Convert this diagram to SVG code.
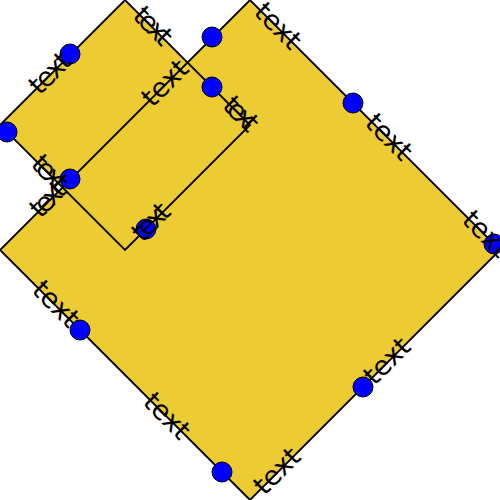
<svg xmlns="http://www.w3.org/2000/svg" width="500" height="500" viewBox="0 0 500 500">
<style>
.bg{fill:#EDCB33;stroke:none}
.edge{fill:none;stroke:#000;stroke-width:1.8;stroke-linejoin:miter}
.dot{fill:#0000FF;stroke:#000;stroke-width:1}
.lbl{font-family:"DejaVu Sans",sans-serif;font-size:27px;fill:#000;text-anchor:middle}
</style>
<rect width="500" height="500" fill="#fff"/>
<g id="fills">
<polygon class="bg" points="250,0 500,250 250,500 0,250"/>
<polygon class="bg" points="125,0 250,125 125,250 0,125"/>
</g>
<g id="big-square">
<polygon class="edge" points="250,0 500,250 250,500 0,250"/>
<circle class="dot" cx="212" cy="37" r="10"/>
<circle class="dot" cx="70" cy="179" r="10"/>
<circle class="dot" cx="353" cy="103" r="10"/>
<circle class="dot" cx="494" cy="244" r="10"/>
<circle class="dot" cx="80" cy="330" r="10"/>
<circle class="dot" cx="222" cy="472" r="10"/>
<circle class="dot" cx="363" cy="387" r="10"/>
<text class="lbl" transform="translate(166,84) rotate(-45)" dy="0.28em">text</text>
<text class="lbl" transform="translate(49,200) rotate(-45)" dy="0.28em" textLength="39" lengthAdjust="spacing">text</text>
<text class="lbl" transform="translate(277,27) rotate(45)" dy="0.28em">text</text>
<text class="lbl" transform="translate(388,138) rotate(45)" dy="0.28em">text</text>
<text class="lbl" transform="translate(485,235) rotate(45)" dy="0.28em">text</text>
<text class="lbl" transform="translate(55,305) rotate(45)" dy="0.28em">text</text>
<text class="lbl" transform="translate(166,417) rotate(45)" dy="0.28em">text</text>
<text class="lbl" transform="translate(388,362) rotate(-45)" dy="0.28em">text</text>
<text class="lbl" transform="translate(278,472) rotate(-45)" dy="0.28em">text</text>
</g>
<g id="small-square">
<polygon class="edge" points="125,0 250,125 125,250 0,125"/>
<circle class="dot" cx="70" cy="54" r="10"/>
<circle class="dot" cx="7" cy="132" r="10"/>
<circle class="dot" cx="212" cy="87" r="10"/>
<circle class="dot" cx="146" cy="229" r="10"/>
<text class="lbl" transform="translate(152,27) rotate(45)" dy="0.28em" textLength="43" lengthAdjust="spacing">text</text>
<text class="lbl" transform="translate(51,74) rotate(-45)" dy="0.28em" textLength="47" lengthAdjust="spacing">text</text>
<text class="lbl" transform="translate(240,115) rotate(45)" dy="0.28em" textLength="38" lengthAdjust="spacing">text</text>
<text class="lbl" transform="translate(49,174) rotate(45)" dy="0.28em" textLength="39" lengthAdjust="spacing">text</text>
<text class="lbl" transform="translate(152,223) rotate(-45)" dy="0.28em" textLength="42" lengthAdjust="spacing">text</text>
</g>
</svg>
